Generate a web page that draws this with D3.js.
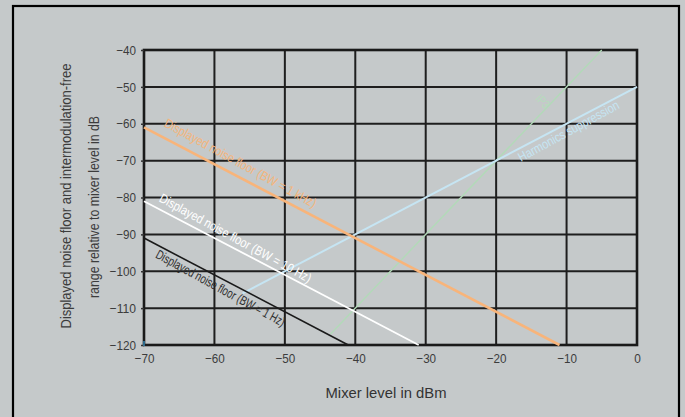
<!DOCTYPE html>
<html><head><meta charset="utf-8">
<script src="https://cdn.jsdelivr.net/npm/d3@7"></script>
<style>
html,body{margin:0;padding:0;background:#c5c9ca;}
svg{display:block;}
text{font-family:"Liberation Sans","Arial",sans-serif;}
</style></head>
<body>
<svg id="chart" width="685" height="417"></svg>
<script>
// ---- data ----
const xTicks = [-70, -60, -50, -40, -30, -20, -10, 0];
const yTicks = [-40, -50, -60, -70, -80, -90, -100, -110, -120];
const xTitle = "Mixer level in dBm";
const yTitle = ["Displayed noise floor and intermodulation-free", "range relative to mixer level in dB"];

const noise1kHz = [[-70, -61], [-11, -120]];
const noise10Hz = [[-70, -81], [-31, -120]];
const noise1Hz = [[-70, -91], [-41, -120]];
const harmonics = [[-56, -106], [0, -50]];
const ip3 = [[-43.5, -117], [-5, -40]];

const seriesNames = ["Displayed noise floor (BW = 1 kHz)", "Displayed noise floor (BW = 10 Hz)",
  "Displayed noise floor (BW = 1 Hz)", "Harmonics suppression", "IP3"];

// ---- drawing ----
const svg = d3.select("#chart");
const W = 685, H = 417;
svg.append("rect").attr("x", 0).attr("y", 0).attr("width", W).attr("height", H).attr("fill", "#c5c9ca");
svg.append("rect").attr("x", 13).attr("y", 6).attr("width", 666).attr("height", 420)
  .attr("fill", "none").attr("stroke", "#000").attr("stroke-width", 2.2);

const x = d3.scaleLinear().domain([-70, 0]).range([144, 637]);
const y = d3.scaleLinear().domain([-120, -40]).range([345, 50]);

const fmt = d => d3.format("")(d).replace("-", "\u2212");
const numW = s => s.length * 6.6; // condensed width per char

const g = svg.append("g");
// grid
g.selectAll("line.vg").data(xTicks).join("line").attr("class", "vg")
  .attr("x1", d => x(d)).attr("x2", d => x(d)).attr("y1", y(-40)).attr("y2", y(-120))
  .attr("stroke", "#1e1e1e").attr("stroke-width", 2);
g.selectAll("line.hg").data(yTicks).join("line").attr("class", "hg")
  .attr("y1", d => y(d)).attr("y2", d => y(d)).attr("x1", x(-70)).attr("x2", x(0))
  .attr("stroke", "#1e1e1e").attr("stroke-width", 2);
g.append("rect").attr("x", x(-70)).attr("y", y(-40)).attr("width", x(0) - x(-70)).attr("height", y(-120) - y(-40))
  .attr("fill", "none").attr("stroke", "#1a1a1a").attr("stroke-width", 2.6);

// axes
const yAxis = d3.axisLeft(y).tickValues(yTicks).tickSize(3).tickPadding(5).tickFormat(fmt);
const ya = svg.append("g").attr("transform", `translate(${x(-70)},0)`).call(yAxis);
ya.select(".domain").remove();
ya.selectAll("line").attr("stroke", "#333").attr("stroke-width", 1.5);
ya.selectAll("text").attr("fill", "#3c3c3c").attr("font-size", 13)
  .attr("textLength", d => numW(fmt(d))).attr("lengthAdjust", "spacingAndGlyphs");

const xAxis = d3.axisBottom(x).tickValues(xTicks).tickSize(0).tickPadding(9).tickFormat(fmt);
const xa = svg.append("g").attr("transform", `translate(0,${y(-120)})`).call(xAxis);
xa.select(".domain").remove();
xa.selectAll("text").attr("fill", "#3c3c3c").attr("font-size", 13)
  .attr("textLength", d => numW(fmt(d))).attr("lengthAdjust", "spacingAndGlyphs");

svg.append("text").attr("x", 386).attr("y", 398).attr("text-anchor", "middle")
  .attr("font-size", 15).attr("fill", "#333")
  .attr("textLength", 121).attr("lengthAdjust", "spacingAndGlyphs").text(xTitle);
svg.append("text").attr("transform", "translate(71,196) rotate(-90)").attr("text-anchor", "middle")
  .attr("font-size", 14).attr("fill", "#3c3c3c")
  .attr("textLength", 265).attr("lengthAdjust", "spacingAndGlyphs").text(yTitle[0]);
svg.append("text").attr("transform", "translate(99,207) rotate(-90)").attr("text-anchor", "middle")
  .attr("font-size", 14).attr("fill", "#3c3c3c")
  .attr("textLength", 182).attr("lengthAdjust", "spacingAndGlyphs").text(yTitle[1]);

// lines
const line = d3.line().x(d => x(d[0])).y(d => y(d[1]));
const series = [
  {data: ip3, color: "#b2dab8", w: 1.4},
  {data: harmonics, color: "#c6e5f3", w: 2},
  {data: noise1Hz, color: "#1a1a1a", w: 1.6},
  {data: noise10Hz, color: "#ffffff", w: 1.8},
  {data: noise1kHz, color: "#f8b47a", w: 2.6}
];
series.forEach(s => {
  svg.append("path").attr("d", line(s.data)).attr("fill", "none")
    .attr("stroke", s.color).attr("stroke-width", s.w);
});
// tiny blue mark at origin
svg.append("line").attr("x1", x(-70)).attr("x2", x(-70)).attr("y1", y(-120) - 4).attr("y2", y(-120) + 1)
  .attr("stroke", "#3aa0d8").attr("stroke-width", 1.2);

// labels along lines
const angDown = Math.atan2(y(-120) - y(-110), x(-60) - x(-70)) * 180 / Math.PI; // slope -1
const angIP3 = Math.atan2(y(-100) - y(-80), x(-60) - x(-70)) * 180 / Math.PI;   // slope 2
const labels = [
  {t: seriesNames[0], cx: 240, cy: 164, a: angDown + 1, c: "#f4b57c", fs: 13, len: 171},
  {t: seriesNames[1], cx: 235, cy: 239, a: angDown + 1, c: "#ffffff", fs: 13, len: 171},
  {t: seriesNames[2], cx: 220, cy: 289, a: angDown + 1, c: "#2e2e2e", fs: 13, len: 145},
  {t: seriesNames[3], cx: 569, cy: 132, a: -angDown - 1, c: "#c6e5f3", fs: 13, len: 113},
  {t: seriesNames[4], cx: 542, cy: 102, a: angIP3, c: "#b6dcbc", fs: 12, len: 14}
];
labels.forEach(l => {
  svg.append("text").attr("transform", `translate(${l.cx},${l.cy}) rotate(${l.a})`)
    .attr("text-anchor", "middle").attr("dominant-baseline", "middle")
    .attr("font-size", l.fs).attr("fill", l.c)
    .attr("textLength", l.len).attr("lengthAdjust", "spacingAndGlyphs").text(l.t);
});
</script>
</body></html>
